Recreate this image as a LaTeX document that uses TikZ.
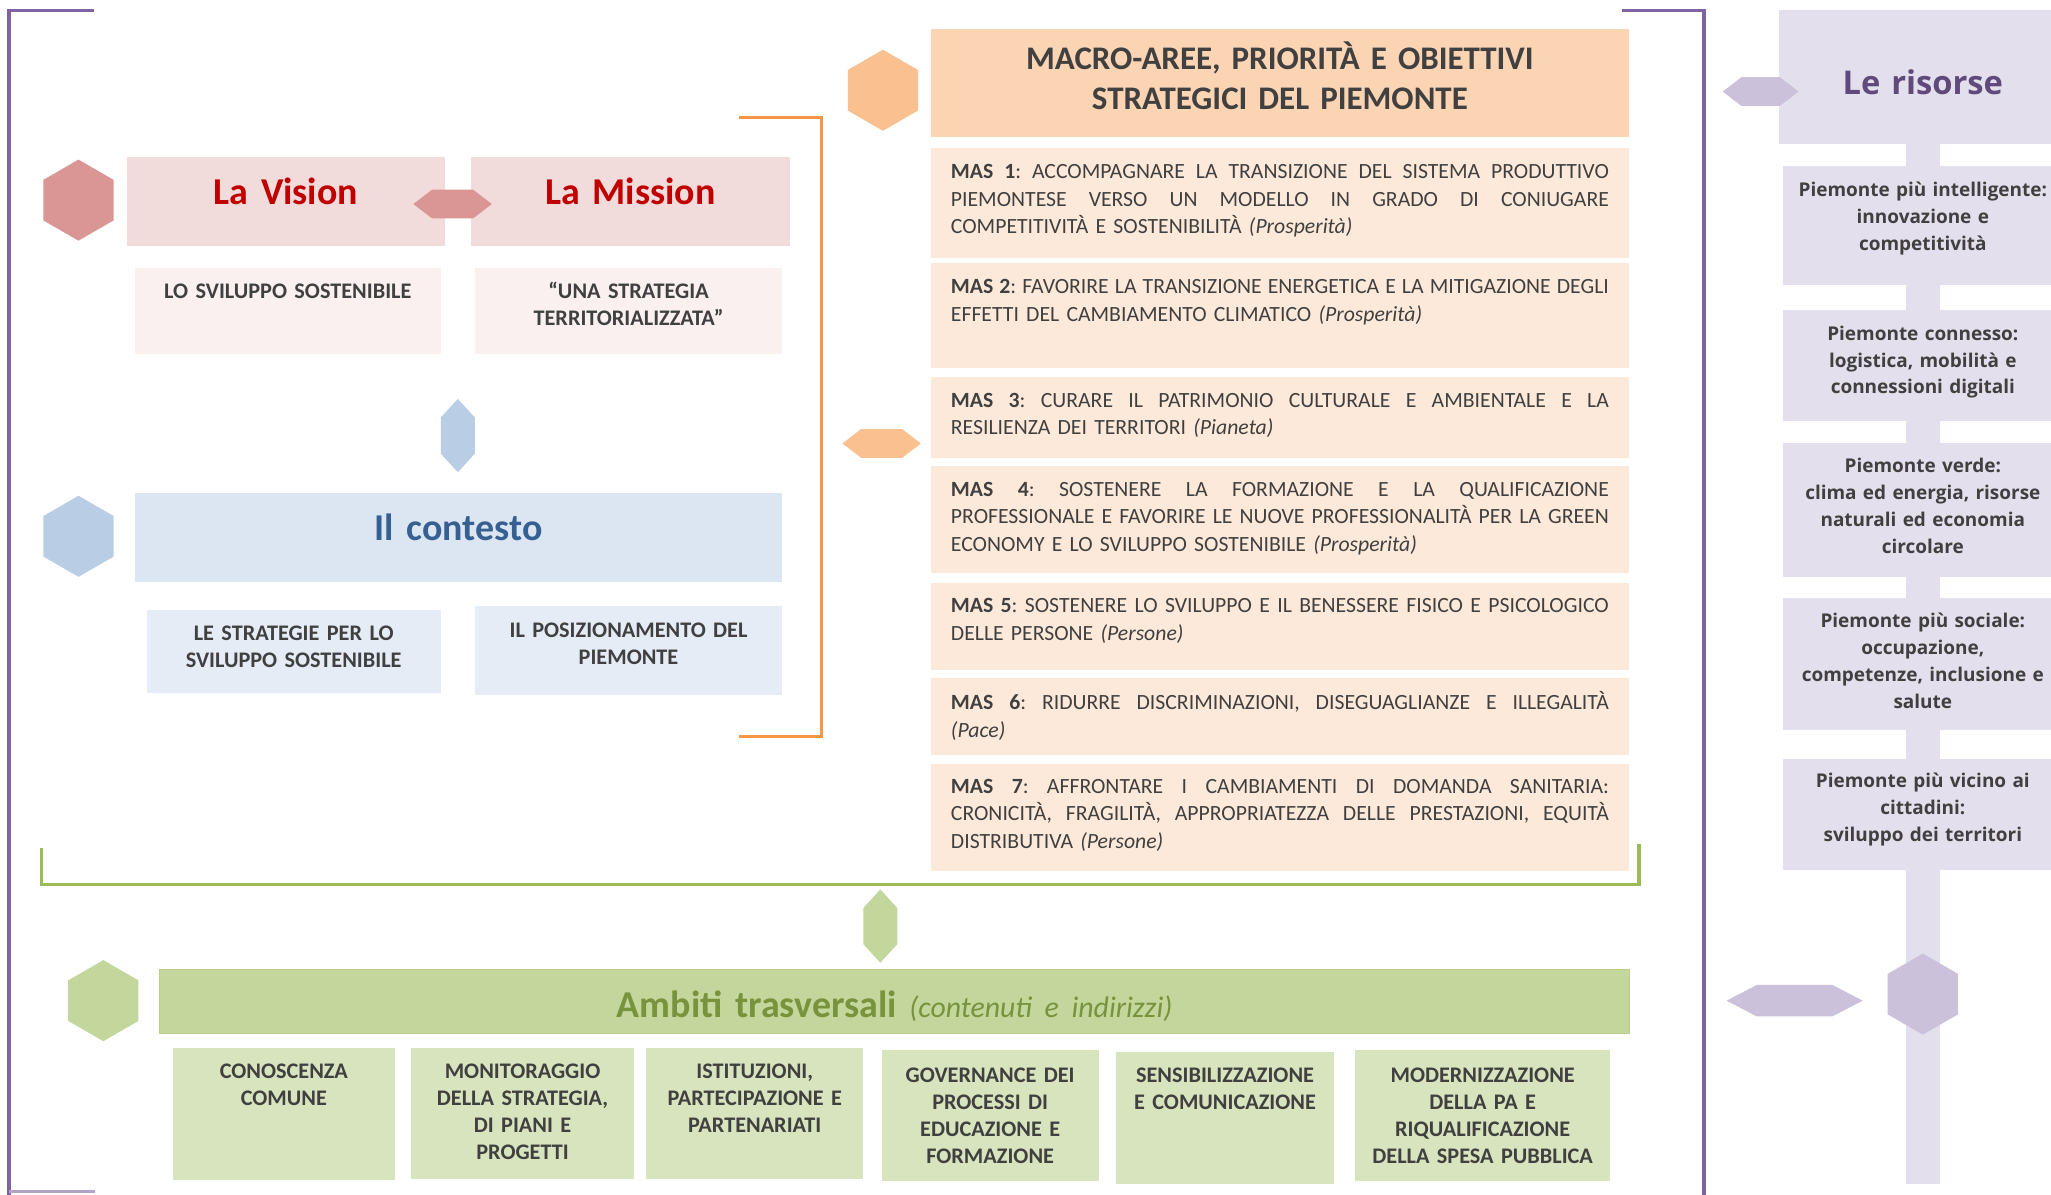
\documentclass[tikz,border=0pt]{standalone}
\usepackage{fontspec}
\setmainfont{Carlito}
\newfontfamily\risfont{Open Sans}
\usetikzlibrary{shapes.geometric, shapes.symbols, positioning}
\frenchspacing

\definecolor{txt}{HTML}{404040}
\definecolor{framepurple}{HTML}{8064A2}
\definecolor{framelight}{HTML}{B3A2C7}
\definecolor{redhex}{HTML}{D99694}
\definecolor{redfill}{HTML}{F2DCDB}
\definecolor{redsub}{HTML}{FAF0F0}
\definecolor{redtext}{HTML}{C00000}
\definecolor{bluehex}{HTML}{B9CDE5}
\definecolor{bluefill}{HTML}{DCE6F2}
\definecolor{bluesub}{HTML}{E5ECF6}
\definecolor{bluetext}{HTML}{376092}
\definecolor{orangeline}{HTML}{F79646}
\definecolor{orangehex}{HTML}{FAC090}
\definecolor{orangefill}{HTML}{FBD4B4}
\definecolor{orangesub}{HTML}{FDE9D9}
\definecolor{greenline}{HTML}{9BBB59}
\definecolor{greenhex}{HTML}{C3D69B}
\definecolor{greensub}{HTML}{D7E4BD}
\definecolor{greentext}{HTML}{77933C}
\definecolor{purplehex}{HTML}{CCC1DA}
\definecolor{purplefill}{HTML}{E4DFEC}
\definecolor{purpletext}{HTML}{604A7B}

% riga giustificata a tutta larghezza
\newcommand{\jline}[1]{\leavevmode\hbox to\hsize{\spaceskip=0.226em plus 1fil minus 0.07em\relax #1}}
\newcommand{\masno}[1]{\textbf{MAS #1}:}

\tikzset{
  hexbig/.style={
    regular polygon,
    regular polygon sides=6,
    shape border rotate=90,
    minimum size=62pt,
    inner sep=0pt
  },
  hexside/.style={
    signal,
    signal to=east and west,
    signal pointer angle=75,
    minimum width=60pt,
    minimum height=22pt,
    inner sep=0pt
  },
  hexup/.style={
    hexside,
    minimum width=56pt,
    minimum height=26pt,
    signal pointer angle=85,
    rotate=90
  },
  panel/.style={
    rectangle,
    anchor=north west,
    inner sep=0pt,
    outer sep=0pt,
    align=center
  },
  title/.style={
    panel,
    font=\fontsize{29}{34}\selectfont\bfseries
  },
  sub/.style={
    panel,
    text=txt,
    font=\fontsize{17}{20.7}\selectfont\bfseries
  },
  masbox/.style={
    panel,
    fill=orangesub,
    inner xsep=15pt,
    text width=503pt,
    align=left,
    text=txt,
    text height=23.5pt,
    font=\fontsize{16.6}{21}\selectfont
  },
  resbox/.style={
    panel,
    fill=purplefill,
    text width=214pt,
    text=txt,
    text height=23pt,
    font=\risfont\bfseries\fontsize{14.5}{20.6}\selectfont
  },
  frameline/.style={draw=framepurple, line width=3pt},
  bracket/.style={line width=2pt}
}

\begin{document}
\begin{tikzpicture}[x=1pt, y=-1pt]
  \useasboundingbox (0,0) rectangle (1568,913);

  % cornice viola
  \coordinate (fl1) at (7,915);
  \coordinate (fl2) at (7,8);
  \coordinate (fl3) at (72,8);
  \coordinate (fr1) at (1240,8);
  \coordinate (fr2) at (1303,8);
  \coordinate (fr3) at (1303,915);
  \coordinate (fb1) at (7,911);
  \coordinate (fb2) at (73,911);
  \draw[frameline] (fl1) -- (fl2) -- (fl3);
  \draw[frameline] (fr1) -- (fr2) -- (fr3);
  \draw[draw=framelight, line width=2pt] (fb1) -- (fb2);

  % vision e mission
  \node[title, fill=redfill, text=redtext, text width=243pt, text height=36.3pt, text depth=31.7pt] (vision) at (97,120) {La Vision};
  \node[title, fill=redfill, text=redtext, text width=244pt, text height=36.3pt, text depth=31.7pt] (mission) at (360,120) {La Mission};
  \node[hexbig, fill=redhex] (hexvision) at (60,153) {};
  \node[hexside, fill=redhex] (linkvm) at (346,156) {};
  \node[sub, fill=redsub, text width=234pt, text height=23.5pt, text depth=42.5pt] (vsub) at (103,205) {LO SVILUPPO SOSTENIBILE};
  \node[sub, fill=redsub, text width=235pt, text height=23.5pt, text depth=42.5pt] (msub) at (363,205) {“UNA STRATEGIA\\TERRITORIALIZZATA”};

  % contesto
  \node[hexup, fill=bluehex] (linkc) at (350,333) {};
  \node[title, fill=bluefill, text=bluetext, text width=495pt, text height=36pt, text depth=32pt] (contesto) at (103,377) {Il contesto};
  \node[hexbig, fill=bluehex] (hexcont) at (60,410) {};
  \node[sub, fill=bluesub, text width=225pt, text height=23.5pt, text depth=40.5pt] (csub1) at (112,466) {LE STRATEGIE PER LO\\SVILUPPO SOSTENIBILE};
  \node[sub, fill=bluesub, text width=235pt, text height=24.5pt, text depth=43.5pt] (csub2) at (363,463) {IL POSIZIONAMENTO DEL\\PIEMONTE};

  % parentesi arancione
  \coordinate (ob1) at (565,90);
  \coordinate (ob2) at (628,90);
  \coordinate (ob3) at (628,563);
  \coordinate (ob4) at (565,563);
  \draw[bracket, orangeline] (ob1) -- (ob2) -- (ob3) -- (ob4);

  % macro-aree
  \node[panel, fill=orangefill, text=txt, text width=533pt, text height=31pt, text depth=52pt, font=\fontsize{25.2}{31}\selectfont\bfseries] (head) at (712,22) {MACRO-AREE, PRIORITÀ E OBIETTIVI\\STRATEGICI DEL PIEMONTE};
  \node[hexbig, fill=orangehex] (hexmas) at (675,69) {};
  \node[hexside, fill=orangehex] (linkmas) at (674,339) {};

  \node[masbox, text depth=60.5pt, below=8pt of head] (mas1) {\jline{\masno{1} ACCOMPAGNARE LA TRANSIZIONE DEL SISTEMA PRODUTTIVO}\\
    \jline{PIEMONTESE VERSO UN MODELLO IN GRADO DI CONIUGARE}\\
    COMPETITIVITÀ E SOSTENIBILITÀ \textit{(Prosperità)}};
  \node[masbox, text depth=56.5pt, below=4pt of mas1] (mas2) {\jline{\masno{2} FAVORIRE LA TRANSIZIONE ENERGETICA E LA MITIGAZIONE DEGLI}\\
    EFFETTI DEL CAMBIAMENTO CLIMATICO \textit{(Prosperità)}};
  \node[masbox, text depth=38.5pt, below=7pt of mas2] (mas3) {\jline{\masno{3} CURARE IL PATRIMONIO CULTURALE E AMBIENTALE E LA}\\
    RESILIENZA DEI TERRITORI \textit{(Pianeta)}};
  \node[masbox, text depth=58.5pt, below=6pt of mas3] (mas4) {\jline{\masno{4} SOSTENERE LA FORMAZIONE E LA QUALIFICAZIONE}\\
    \jline{PROFESSIONALE E FAVORIRE LE NUOVE PROFESSIONALITÀ PER LA GREEN}\\
    ECONOMY E LO SVILUPPO SOSTENIBILE \textit{(Prosperità)}};
  \node[masbox, text height=22.5pt, text depth=43.5pt, below=8pt of mas4] (mas5) {\jline{\masno{5} SOSTENERE LO SVILUPPO E IL BENESSERE FISICO E PSICOLOGICO}\\
    DELLE PERSONE \textit{(Persone)}};
  \node[masbox, text height=24.5pt, text depth=34.5pt, below=6pt of mas5] (mas6) {\jline{\masno{6} RIDURRE DISCRIMINAZIONI, DISEGUAGLIANZE E ILLEGALITÀ}\\
    \textit{(Pace)}};
  \node[masbox, text height=22.5pt, text depth=59.5pt, below=7pt of mas6] (mas7) {\jline{\masno{7} AFFRONTARE I CAMBIAMENTI DI DOMANDA SANITARIA:}\\
    \jline{CRONICITÀ, FRAGILITÀ, APPROPRIATEZZA DELLE PRESTAZIONI, EQUITÀ}\\
    DISTRIBUTIVA \textit{(Persone)}};

  % parentesi verde
  \coordinate (gb1) at (32,648);
  \coordinate (gb2) at (32,676);
  \coordinate (gb3) at (1253,676);
  \coordinate (gb4) at (1253,645);
  \draw[bracket, greenline, line width=2.5pt] (gb1) -- (gb2) -- (gb3) -- (gb4);

  % ambiti trasversali
  \node[hexup, fill=greenhex] (linkamb) at (673,708) {};
  \node[title, fill=greenhex, draw=greenline!70, line width=1pt, text=greentext, text width=1124pt, text height=37pt, text depth=12pt] (ambiti) at (122,741) {Ambiti trasversali {\mdseries\itshape\fontsize{22.8}{27}\selectfont(contenuti e indirizzi)}};
  \node[hexbig, fill=greenhex] (hexamb) at (79,765) {};
  \node[sub, fill=greensub, text width=170pt, text height=23.5pt, text depth=77.5pt] (amb1) at (132,801) {CONOSCENZA\\COMUNE};
  \node[sub, fill=greensub, text width=171pt, text height=23.5pt, text depth=76.5pt] (amb2) at (314,801) {MONITORAGGIO\\DELLA STRATEGIA,\\DI PIANI E\\PROGETTI};
  \node[sub, fill=greensub, text width=166pt, text height=23.5pt, text depth=76.5pt] (amb3) at (494,801) {ISTITUZIONI,\\PARTECIPAZIONE E\\PARTENARIATI};
  \node[sub, fill=greensub, text width=166pt, text height=24.5pt, text depth=75.5pt] (amb4) at (674,803) {GOVERNANCE DEI\\PROCESSI DI\\EDUCAZIONE E\\FORMAZIONE};
  \node[sub, fill=greensub, text width=167pt, text height=23.5pt, text depth=77.5pt] (amb5) at (853,804) {SENSIBILIZZAZIONE\\E COMUNICAZIONE};
  \node[sub, fill=greensub, text width=195pt, text height=24.5pt, text depth=75.5pt] (amb6) at (1036,803) {MODERNIZZAZIONE\\DELLA PA E\\RIQUALIFICAZIONE\\DELLA SPESA PUBBLICA};

  % le risorse
  \node[rectangle, fill=purplefill, minimum width=26pt, minimum height=800pt, inner sep=0pt] (stem) at (1470,505) {};
  \node[panel, fill=purplefill, text=purpletext, text width=220pt, text height=64pt, text depth=38pt, font=\risfont\bfseries\fontsize{25}{30}\selectfont] (risorse) at (1360,8) {Le risorse};
  \node[hexside, fill=purplehex, minimum width=58pt] (linkris) at (1346,70) {};
  \node[resbox, text depth=68pt] (res1) at (1363,127) {Piemonte più intelligente:\\innovazione e\\competitività};
  \node[resbox, text depth=62pt, below=19pt of res1] (res2) {Piemonte connesso:\\logistica, mobilità e\\connessioni digitali};
  \node[resbox, text height=22pt, text depth=80pt, below=17pt of res2] (res3) {Piemonte verde:\\clima ed energia, risorse\\naturali ed economia\\circolare};
  \node[resbox, text depth=78pt, below=16pt of res3] (res4) {Piemonte più sociale:\\occupazione,\\competenze, inclusione e\\salute};
  \node[resbox, text height=22pt, text depth=63pt, below=22pt of res4] (res5) {Piemonte più vicino ai\\cittadini:\\sviluppo dei territori};
  \node[hexbig, fill=purplehex] (hexris) at (1470,760) {};
  \node[hexside, fill=purplehex, minimum width=104pt, minimum height=24pt, signal pointer angle=55] (linkamb2) at (1372,765) {};
\end{tikzpicture}
\end{document}
